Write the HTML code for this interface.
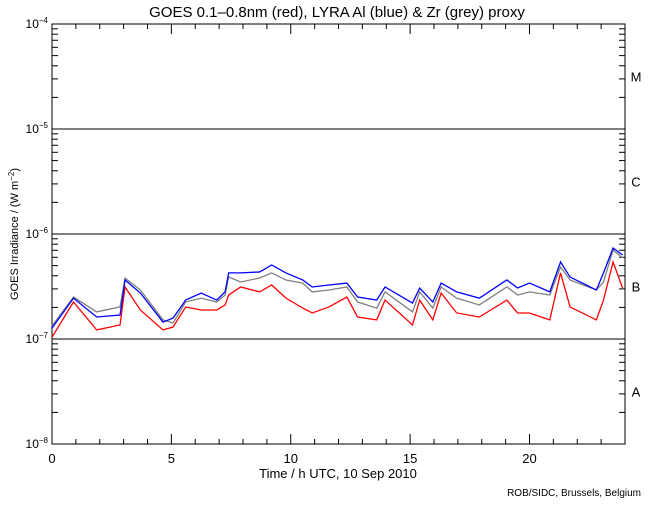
<!DOCTYPE html>
<html><head><meta charset="utf-8"><style>
body{margin:0;background:#fff}
svg text{font-family:"Liberation Sans",sans-serif;fill:#000}
</style></head><body>
<svg id="c" width="650" height="500" xmlns="http://www.w3.org/2000/svg">
<text x="337" y="17" font-size="15" text-anchor="middle">GOES 0.1–0.8nm (red), LYRA Al (blue) &amp; Zr (grey) proxy</text>
<text transform="translate(18,234) rotate(-90)" font-size="11" text-anchor="middle">GOES Irradiance / (W m<tspan dy="-4" font-size="8">−2</tspan><tspan dy="4">)</tspan></text>
<text x="338" y="478" font-size="13" text-anchor="middle">Time / h UTC, 10 Sep 2010</text>
<text x="641" y="496" font-size="10" text-anchor="end">ROB/SIDC, Brussels, Belgium</text>
<g id="ax"></g>
<g id="series"></g>
</svg>
<script>
const hours=[0,0.9,1.87,2.85,3.06,3.7,4.65,5.07,5.6,6.25,6.9,7.25,7.4,7.9,8.7,9.2,9.8,10.5,10.9,11.6,12.35,12.8,13.6,13.95,15.1,15.4,15.95,16.3,16.95,17.9,19.05,19.5,20.0,20.85,21.3,21.7,22.8,23.1,23.5,23.9];
const blueAl=[1.27e-7,2.45e-7,1.62e-7,1.69e-7,3.65e-7,2.74e-7,1.45e-7,1.58e-7,2.35e-7,2.74e-7,2.35e-7,2.81e-7,4.26e-7,4.26e-7,4.35e-7,5.07e-7,4.26e-7,3.65e-7,3.13e-7,3.27e-7,3.41e-7,2.51e-7,2.35e-7,3.13e-7,2.20e-7,3.06e-7,2.25e-7,3.41e-7,2.81e-7,2.45e-7,3.65e-7,3.06e-7,3.41e-7,2.81e-7,5.41e-7,3.89e-7,2.93e-7,4.26e-7,7.36e-7,6.31e-7];
const greyZr=[1.33e-7,2.51e-7,1.81e-7,2.02e-7,3.81e-7,2.93e-7,1.52e-7,1.42e-7,2.25e-7,2.45e-7,2.25e-7,2.62e-7,3.89e-7,3.49e-7,3.81e-7,4.26e-7,3.65e-7,3.41e-7,2.81e-7,2.93e-7,3.13e-7,2.25e-7,1.97e-7,2.81e-7,1.81e-7,2.81e-7,1.97e-7,3.13e-7,2.45e-7,2.11e-7,3.13e-7,2.62e-7,2.81e-7,2.62e-7,4.85e-7,3.65e-7,2.93e-7,3.49e-7,7.05e-7,5.91e-7];
const redGoes=[1.04e-7,2.25e-7,1.22e-7,1.36e-7,3.13e-7,1.89e-7,1.22e-7,1.30e-7,2.02e-7,1.89e-7,1.89e-7,2.11e-7,2.62e-7,3.13e-7,2.81e-7,3.27e-7,2.45e-7,1.97e-7,1.77e-7,2.02e-7,2.51e-7,1.62e-7,1.52e-7,2.35e-7,1.36e-7,2.35e-7,1.52e-7,2.74e-7,1.77e-7,1.62e-7,2.35e-7,1.77e-7,1.77e-7,1.52e-7,4.26e-7,2.02e-7,1.52e-7,2.35e-7,5.41e-7,3.06e-7];
const xTicks=[0,5,10,15,20];
const decades=[-4,-5,-6,-7,-8];
const classes=["M","C","B","A"];
const L=52,R=625,T=24,B=444;
const xs=h=>L+(R-L)*h/24;
const ys=v=>T+(B-T)*(-4-Math.log10(v))/4;
const NS="http://www.w3.org/2000/svg";
const ax=document.getElementById('ax'),sg=document.getElementById('series');
function mk(tag,attrs,parent){const e=document.createElementNS(NS,tag);for(const k in attrs)e.setAttribute(k,attrs[k]);parent.appendChild(e);return e;}
const frame=mk('rect',{x:L,y:T,width:R-L,height:B-T,fill:'none',stroke:'#000','stroke-width':1},ax);


decades.forEach(d=>{
  const y=ys(Math.pow(10,d));
  if(d>-8&&d<-4){const g=mk('line',{x1:L,x2:R,y1:y,y2:y,stroke:'#000','stroke-width':1},ax);
    
    }
  const t=mk('text',{x:L-4,y:y+4,'font-size':12,'text-anchor':'end'},ax);
  
  
  t.innerHTML='10<tspan dy="-5" font-size="8">'+(d).toString().replace('-','−')+'</tspan>';
  if(d>-8){for(let m=2;m<=9;m++){const yy=ys(m*Math.pow(10,d-1));
    mk('line',{x1:L,x2:L+6,y1:yy,y2:yy,stroke:'#000'},ax);
    mk('line',{x1:R,x2:R-6,y1:yy,y2:yy,stroke:'#000'},ax);}}
});
for(let h=0;h<=24;h++){const x=xs(h),len=h%5===0?10:5;
  mk('line',{x1:x,x2:x,y1:B,y2:B-len,stroke:'#000'},ax);
  mk('line',{x1:x,x2:x,y1:T,y2:T+len,stroke:'#000'},ax);}
xTicks.forEach(h=>{const t=mk('text',{x:xs(h),y:463,'font-size':13,'text-anchor':'middle'},ax);
  
  
  t.textContent=h;});
classes.forEach((c,i)=>{const y=(ys(Math.pow(10,-4-i))+ys(Math.pow(10,-5-i)))/2;
  const t=mk('text',{x:636,y:y+5,'font-size':13,'text-anchor':'middle'},ax);
  
  
  t.textContent=c;});
function line(vals,color,name){const p=mk('polyline',{points:vals.map((v,i)=>xs(hours[i])+','+ys(v)).join(' '),fill:'none',stroke:color,'stroke-width':1.3},sg);
  
  }
line(greyZr,'#808080','zr-proxy-line');
line(redGoes,'#ff0000','goes-line');
line(blueAl,'#0000ff','al-proxy-line');
</script>
</body></html>
